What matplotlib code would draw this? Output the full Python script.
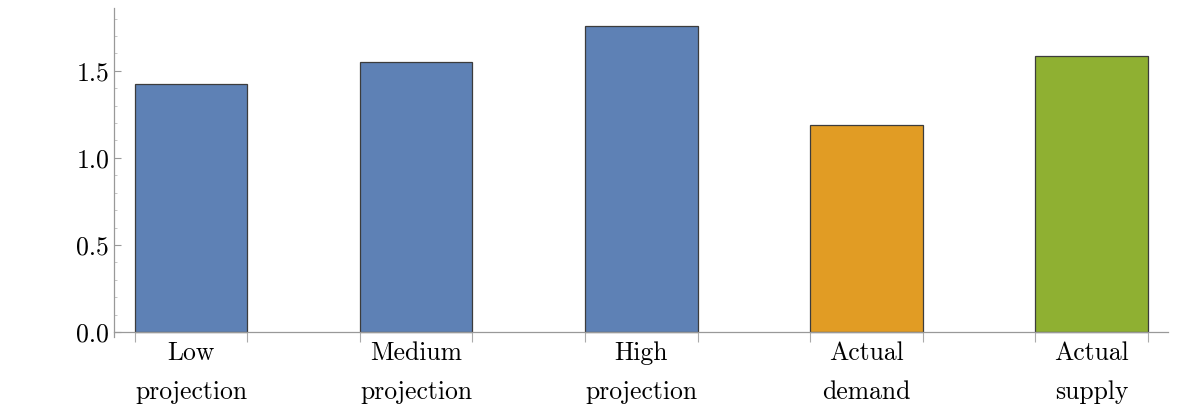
import numpy as np
import matplotlib.pyplot as plt
from matplotlib.ticker import FixedLocator, MultipleLocator, FormatStrFormatter

# data
categories = ['Low\nprojection', 'Medium\nprojection', 'High\nprojection',
              'Actual\ndemand', 'Actual\nsupply']
values = [1.425, 1.552, 1.759, 1.19, 1.586]
colors = ['#5E81B5', '#5E81B5', '#5E81B5', '#E19C24', '#8FB032']

plt.rcParams['font.family'] = ['cmr10', 'DejaVu Serif']
plt.rcParams['axes.formatter.use_mathtext'] = True

fig = plt.figure(figsize=(12, 4.13), dpi=100)
ax = fig.add_axes([0.095, 0.184, 0.878, 0.797])

x = np.arange(len(values))
width = 0.5
ax.bar(x, values, width=width, color=colors, edgecolor='#3c3c3c', linewidth=0.9)

ax.set_xlim(-0.342, len(values) - 1 + 0.338)
ax.set_ylim(-0.029, 1.862)

for s in ['top', 'right']:
    ax.spines[s].set_visible(False)
for s in ['left', 'bottom']:
    ax.spines[s].set_color('#999999')
    ax.spines[s].set_linewidth(0.9)
# x axis crosses at zero, the y axis pokes a little below it
ax.spines['bottom'].set_position(('data', 0))

# x: labels at the centres, small marks at the bar edges
ax.set_xticks(x)
ax.set_xticklabels(categories, fontsize=18.5, linespacing=1.85)
ax.tick_params(axis='x', which='major', length=0, pad=6.5)
edges = np.concatenate([x - width / 2, x + width / 2])
ax.xaxis.set_minor_locator(FixedLocator(edges))
ax.tick_params(axis='x', which='minor', direction='out', length=7,
               color='#aaaaaa', width=0.8)

# y
ax.yaxis.set_major_locator(MultipleLocator(0.5))
ax.yaxis.set_minor_locator(MultipleLocator(0.1))
ax.yaxis.set_major_formatter(FormatStrFormatter('%.1f'))
ax.tick_params(axis='y', which='major', direction='in', length=5,
               color='#999999', width=0.8, labelsize=18.5, pad=3.5)
ax.tick_params(axis='y', which='minor', direction='in', length=2.5,
               color='#bbbbbb', width=0.6)

fig.savefig('out.png', dpi=100)
